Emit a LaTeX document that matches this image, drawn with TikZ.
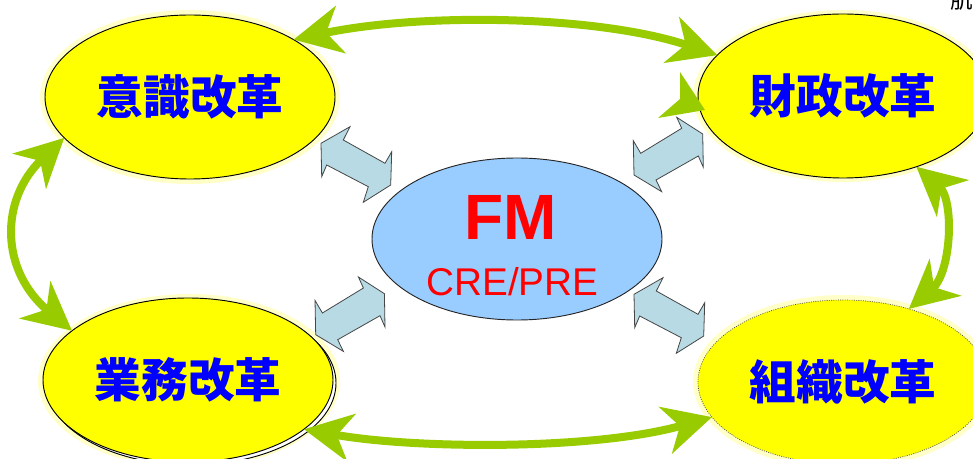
\documentclass[tikz,border=0pt]{standalone}
\usepackage{fontspec}
\newfontfamily\jp{Noto Sans CJK JP}
\newfontfamily\lsans{Liberation Sans}
\usetikzlibrary{shapes.geometric,arrows.meta,calc}

\definecolor{reformyellow}{RGB}{255,255,0}
\definecolor{reformblue}{RGB}{0,0,255}
\definecolor{fmblue}{RGB}{153,204,255}
\definecolor{fmred}{RGB}{255,0,0}
\definecolor{linkgreen}{RGB}{153,204,0}
\definecolor{blockfill}{RGB}{183,218,228}
\definecolor{blockline}{RGB}{70,70,70}

\tikzset{
  reform/.style={ellipse, fill=reformyellow, draw=black, line width=0.7pt,
    inner sep=0pt, outer sep=0pt, minimum width=217.5pt, minimum height=123pt,
    text=reformblue, font=\jp\bfseries\fontsize{35}{40}\selectfont},
  core/.style={ellipse, fill=fmblue, draw=black!85, line width=0.7pt,
    inner sep=0pt, outer sep=0pt, minimum width=217.5pt, minimum height=121.5pt},
  halo/.style={fill=reformyellow!22},
  linkhead/.tip={Stealth[length=36pt,width=36pt,inset=11pt]},
  link/.style={draw=linkgreen, line width=6pt, linkhead-linkhead},
  blockarrow/.style={fill=blockfill, draw=blockline, line width=0.6pt, line join=miter},
  pics/swapdown/.style={code={
    \draw[blockarrow] (29,0) -- (22.3,13.3) -- (64,36.6) -- (70.7,25) -- (69.7,58.3)
      -- (42.3,75.6) -- (47.3,60) -- (5.7,38.3) -- (0.7,50) -- (0,16.6) -- cycle;}},
  pics/swapup/.style={code={
    \draw[blockarrow] (43.4,0) -- (48.4,11) -- (7.4,36) -- (0,23.4) -- (0.7,57.7)
      -- (28.4,74.4) -- (22.7,62.7) -- (65,38.7) -- (70,50) -- (69.4,16.7) -- cycle;}},
}

\begin{document}
\begin{tikzpicture}[x=0.75pt,y=-0.75pt]
  \useasboundingbox (0,0) rectangle (973,459);
  \clip (0,0) rectangle (973,459);
  \fill[white] (0,0) rectangle (973,459);

  % soft glow round the four reform ellipses
  \fill[halo] (190,97) ellipse [x radius=150, y radius=87];
  \fill[halo] (843,96) ellipse [x radius=150, y radius=86];
  \fill[halo] (189,381) ellipse [x radius=151, y radius=87];
  \fill[halo] (843,382) ellipse [x radius=150, y radius=87];

  % reform ellipses
  \node[reform] (a) at (190,97) {意識改革};
  \node[reform] (b) at (843,96) {財政改革};
  \node[reform, fill=white, text=white] (cshadow) at (191,383) {};
  \node[reform] (c) at (188,380) {業務改革};
  \node[reform, draw=black!70, densely dotted, line width=0.5pt] (d) at (843,382) {組織改革};

  % central FM ellipse
  \node[core] (fm) at (517,239) {};
  \node[text=fmred, font=\lsans\bfseries\fontsize{48}{50}\selectfont] (fmtitle) at (510.5,217.5) {FM};
  \node[text=fmred, font=\lsans\fontsize{29}{31}\selectfont] (fmsub) at (512.5,281.5) {CRE/PRE};

  % two-way block arrows between FM and the reforms
  \pic at (321,126.7) {swapdown};
  \pic at (634,277.7) {swapdown};
  \pic at (633.3,117.3) {swapup};
  \pic at (315,277) {swapup};

  % green two-way links between neighbouring reforms
  \draw[link] (a.29) .. controls ($(a.29)+(128,-27)$) and ($(b.162)+(-120,-40)$) .. (b.162);
  \draw[link] (c.-23) .. controls ($(c.-23)+(112,20)$) and ($(d.-165)+(-117,33)$) .. (d.-165);
  \draw[link] (a.198) .. controls ($(a.198)+(-65,62)$) and ($(c.157)+(-72,-60)$) .. (c.157);
  \draw[link] (b.-44) .. controls ($(b.-44)+(38,33)$) and ($(d.48)+(43,-37)$) .. (d.48);

  % loose arrow head beside 財政改革
  \fill[linkgreen] (705,110) -- (658,118) -- (680,99) -- (680,72) -- cycle;

  % page note at the top right corner
  \node[anchor=base west, inner sep=0pt, font=\jp\fontsize{17}{17}\selectfont] (note) at (950,9) {肌};
\end{tikzpicture}
\end{document}
